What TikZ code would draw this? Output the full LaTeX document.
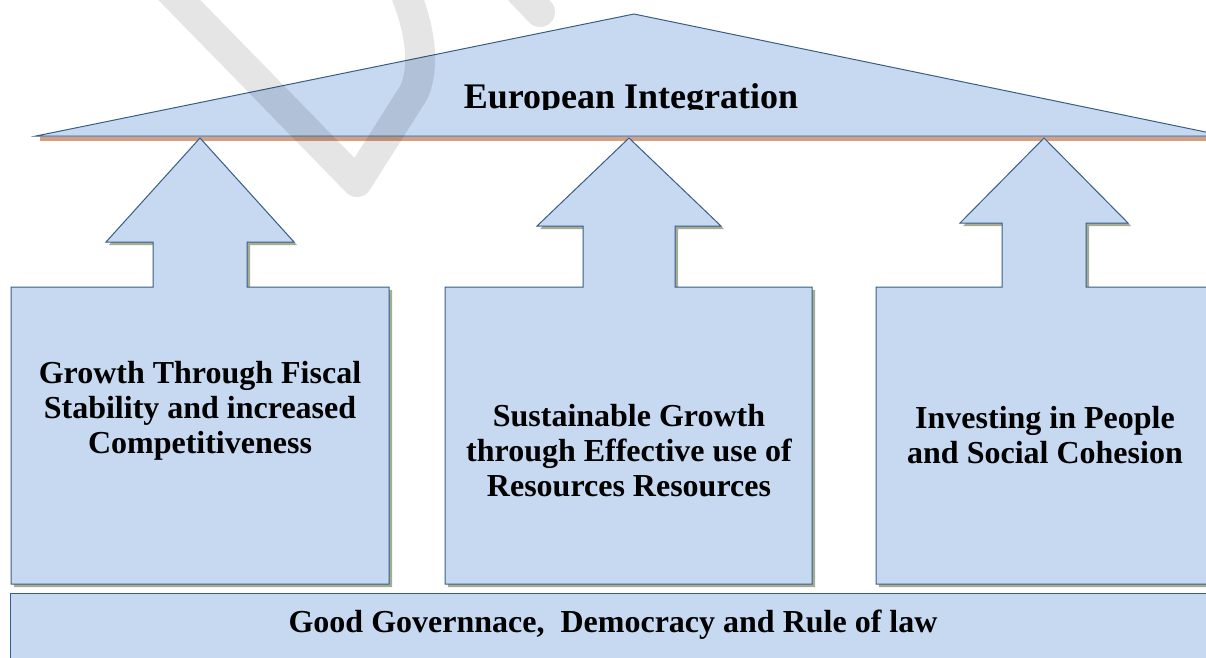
\documentclass[tikz,border=0pt]{standalone}
\usepackage{fontspec}
\setmainfont{Liberation Serif}
\definecolor{pillarfill}{RGB}{198,217,241}
\definecolor{pillarline}{RGB}{56,93,138}
\definecolor{pillarshade}{RGB}{166,172,145}
\definecolor{roofshade}{RGB}{214,160,128}

\begin{document}
\begin{tikzpicture}[x=1pt,y=-1pt]
\tikzstyle{pillar}=[fill=pillarfill,draw=pillarline,line width=1pt];
\tikzstyle{shade}=[fill=pillarshade];
\tikzstyle{label}=[font=\bfseries\fontsize{32}{35}\selectfont,align=center,anchor=base];
\useasboundingbox (0,0) rectangle (1206,657);
\clip (0,0) rectangle (1206,657);
% roof
\fill[roofshade] (40,137) rectangle (1215,141);
\draw[pillar] (36,136) -- (634,14) -- (1225,136) -- cycle;
\begin{scope}
\clip (0,0) rectangle (1206,109);
\node[label,font=\bfseries\fontsize{36}{40}\selectfont] (integration) at (631,108) {European Integration};
\end{scope}
% pillars: box left/right, apex x, head base y, head and shaft half widths
\foreach \l/\r/\c/\hb/\hw/\sw in {11/389/200/242/94/47,445/812/629/226/92/46,876/1214/1044/223/84/42}{
\fill[shade,shift={(3,3)}] (\l,584) -- (\l,287) -- (\c-\sw,287) -- (\c-\sw,\hb) -- (\c-\hw,\hb) -- (\c,138) -- (\c+\hw,\hb) -- (\c+\sw,\hb) -- (\c+\sw,287) -- (\r,287) -- (\r,584) -- cycle;
\draw[pillar] (\l,584) -- (\l,287) -- (\c-\sw,287) -- (\c-\sw,\hb) -- (\c-\hw,\hb) -- (\c,138) -- (\c+\hw,\hb) -- (\c+\sw,\hb) -- (\c+\sw,287) -- (\r,287) -- (\r,584) -- cycle;
}
% multi-line labels sit on their last baseline
\node[label] (fiscal) at (200,453) {Growth Through Fiscal\\Stability and increased\\Competitiveness};
\node[label] (resources) at (629,496) {Sustainable Growth\\through Effective use of\\Resources Resources};
\node[label] (cohesion) at (1045,463) {Investing in People\\and Social Cohesion};
% base
\draw[pillar] (10,593) rectangle (1220,680);
\node[label] (governance) at (613,632) {Good Governnace,\ \ Democracy and Rule of law};
% watermark
\draw[line width=30pt,black,opacity=0.1,line cap=round,line join=round] (150,-30) -- (357,182) -- (414,92) .. controls (426,64) and (420,25) .. (400,-20);
\draw[line width=30pt,black,opacity=0.1,line cap=round] (540,12) -- (500,-30);
\end{tikzpicture}
\end{document}
